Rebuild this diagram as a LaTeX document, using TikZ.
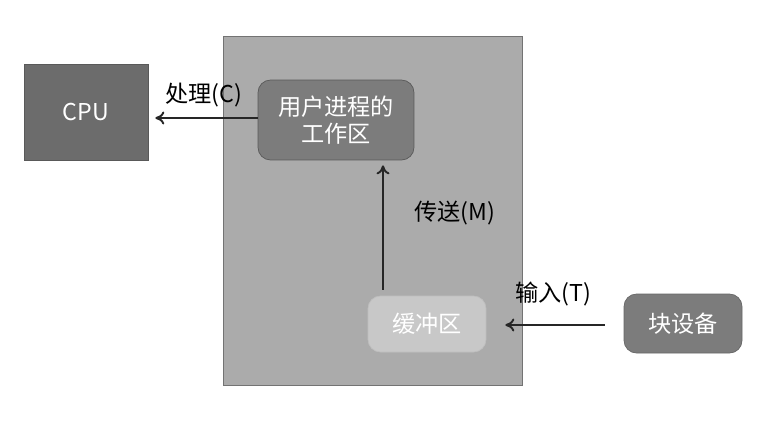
\documentclass[tikz,border=0pt]{standalone}
\usepackage{fontspec}
\setmainfont{Noto Sans CJK SC}
\usepackage{tikz}
\usetikzlibrary{arrows.meta,positioning,calc}

\definecolor{memgray}{HTML}{ABABAB}
\definecolor{darkbox}{HTML}{6C6C6C}
\definecolor{midbox}{HTML}{7C7C7C}
\definecolor{lightbox}{HTML}{C8C8C8}

\begin{document}
\begin{tikzpicture}[
  x=0.02cm, y=-0.02cm,
  unit/.style={draw=black!65, fill=darkbox, text=white, font=\fontsize{13.2}{15.5}\selectfont,
    inner sep=1pt, align=center},
  area/.style={unit, rounded corners=2.5mm},
  tag/.style={font=\fontsize{13.2}{15.5}\selectfont, inner sep=1pt},
  arr/.style={-{To[length=1.8mm,width=2.6mm]}, line width=1.1pt, black!85}
]
  \useasboundingbox (0,0) rectangle (770,447);
  \fill[white] (0,0) rectangle (770,447);
  \node[draw=black!55, fill=memgray, minimum width=5.98cm, minimum height=6.98cm] (mem) at (372.5,210.5) {};
  \node[unit, minimum width=2.48cm, minimum height=1.92cm] (cpu) at (86,112) {CPU};
  \node[area, fill=midbox, minimum width=3.12cm, minimum height=1.6cm] (work) at (336,120)
    {用户进程的\\工作区};
  \node[area, fill=lightbox, draw=black!25, minimum width=2.36cm, minimum height=1.12cm] (buf) at (427,324) {缓冲区};
  \node[area, fill=midbox, draw=black!60, minimum width=2.36cm, minimum height=1.18cm] (dev) at (683,323.5) {块设备};
  \coordinate (mid) at (383,0);
  \draw[arr, shorten >=1.4mm] (work.west |- 0,118) -- (cpu.east |- 0,118);
  \draw[arr, shorten <=1.2mm, shorten >=1mm] (buf.north -| mid) -- (work.south -| mid);
  \draw[arr, shorten <=3.8mm, shorten >=3.8mm] (dev.west |- 0,325) -- (buf.east |- 0,325);
  \node[tag] (c) at (204,95) {处理(C)};
  \node[tag] (m) at (455,213) {传送(M)};
  \node[tag] (t) at (553,294) {输入(T)};
\end{tikzpicture}
\end{document}
